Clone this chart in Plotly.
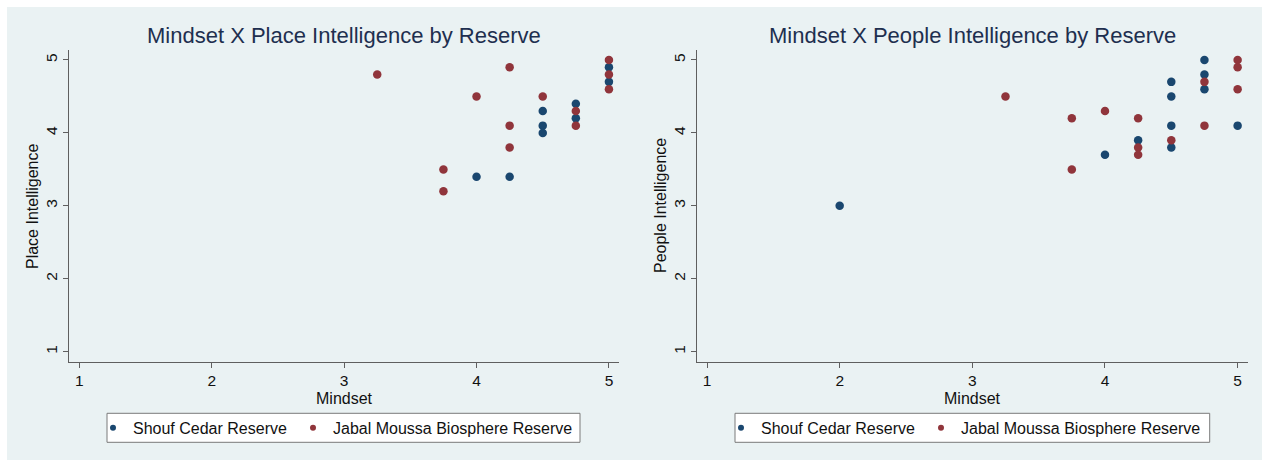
import plotly.graph_objects as go

# Mindset vs. Place Intelligence
place_shouf_x = [4.0, 4.25, 4.5, 4.5, 4.5, 4.75, 4.75, 5.0, 5.0]
place_shouf_y = [3.4, 3.4, 4.3, 4.1, 4.0, 4.4, 4.2, 4.9, 4.7]
place_jabal_x = [3.25, 3.75, 3.75, 4.0, 4.25, 4.25, 4.25, 4.5, 4.75, 4.75, 5.0, 5.0, 5.0]
place_jabal_y = [4.8, 3.5, 3.2, 4.5, 4.9, 4.1, 3.8, 4.5, 4.3, 4.1, 5.0, 4.8, 4.6]

# Mindset vs. People Intelligence
people_shouf_x = [2.0, 4.0, 4.25, 4.5, 4.5, 4.5, 4.5, 4.75, 4.75, 4.75, 5.0]
people_shouf_y = [3.0, 3.7, 3.9, 4.7, 4.5, 4.1, 3.8, 5.0, 4.8, 4.6, 4.1]
people_jabal_x = [3.25, 3.75, 3.75, 4.0, 4.25, 4.25, 4.25, 4.5, 4.75, 4.75, 5.0, 5.0, 5.0]
people_jabal_y = [4.5, 4.2, 3.5, 4.3, 4.2, 3.8, 3.7, 3.9, 4.7, 4.1, 5.0, 4.9, 4.6]

series_names = ["Shouf Cedar Reserve", "Jabal Moussa Biosphere Reserve"]
panel_titles = ["Mindset X Place Intelligence by Reserve",
                "Mindset X People Intelligence by Reserve"]
y_titles = ["Place Intelligence", "People Intelligence"]
x_title = "Mindset"
tick_vals = [1, 2, 3, 4, 5]

NAVY = "#1a476f"
MAROON = "#90353b"
BG = "#eaf2f3"
AXIS = "#5f5f5f"
TXT = "#111111"
FONT = "Liberation Sans, Arial, sans-serif"

W, H = 1267, 463


def px_x(p):
    return p / W


def px_y(p):
    return 1 - p / H


fig = go.Figure()

panels = [
    (place_shouf_x, place_shouf_y, place_jabal_x, place_jabal_y, "x", "y", "legend"),
    (people_shouf_x, people_shouf_y, people_jabal_x, people_jabal_y, "x2", "y2", "legend2"),
]

key_widths = [155, 262]

for sx, sy, jx, jy, xa, ya, lg in panels:
    for xs, ys, col, name in [(sx, sy, NAVY, series_names[0]),
                              (jx, jy, MAROON, series_names[1])]:
        fig.add_trace(go.Scatter(
            x=xs, y=ys, mode="markers", xaxis=xa, yaxis=ya,
            marker=dict(color=col, size=8.5, line=dict(width=0)),
            showlegend=False, hoverinfo="x+y", name=name,
        ))
    # legend keys (smaller symbols than the plotted points)
    for col, name, kw in zip([NAVY, MAROON], series_names, key_widths):
        fig.add_trace(go.Scatter(
            x=[None], y=[None], mode="markers", xaxis=xa, yaxis=ya,
            marker=dict(color=col, size=6), name=name, legend=lg,
            legendwidth=kw,
        ))

x_doms = [[px_x(69), px_x(619)], [px_x(696.7), px_x(1247.7)]]
y_dom = [px_y(361.7), px_y(50)]

axis_common = dict(
    showline=True, linecolor=AXIS, linewidth=1,
    ticks="outside", ticklen=5, tickcolor=AXIS, tickwidth=1,
    tickvals=tick_vals, tickfont=dict(family=FONT, size=15.5, color=TXT),
    zeroline=False, mirror=False,
)

xr = [0.922, 5.076]
yr = [0.863, 5.137]

legend_common = dict(
    orientation="h", xanchor="left", yanchor="middle",
    bgcolor="rgba(0,0,0,0)", borderwidth=0,
    font=dict(family=FONT, size=16, color=TXT), itemwidth=30,
)

# background panel and legend frames
legend_boxes = [(107, 580), (735, 1209.7)]
shapes = [dict(type="rect", xref="paper", yref="paper", layer="below",
               x0=px_x(7), x1=px_x(1262), y0=px_y(460), y1=px_y(7),
               fillcolor=BG, line=dict(width=0))]
for x0, x1 in legend_boxes:
    shapes.append(dict(type="rect", xref="paper", yref="paper", layer="below",
                       x0=px_x(x0), x1=px_x(x1), y0=px_y(442.3), y1=px_y(413.3),
                       fillcolor="white", line=dict(color="#7a7a7a", width=1)))

annotations = []
centers = [344, 972.5]
y_title_x = [33, 661]
for i in range(2):
    annotations.append(dict(
        text=panel_titles[i], xref="paper", yref="paper", x=px_x(centers[i]), y=px_y(35),
        xanchor="center", yanchor="middle", showarrow=False,
        font=dict(family=FONT, size=22, color="#1e2f4f")))
    annotations.append(dict(
        text=x_title, xref="paper", yref="paper", x=px_x(centers[i]), y=px_y(388),
        xanchor="center", yanchor="top", showarrow=False,
        font=dict(family=FONT, size=16, color=TXT)))
    annotations.append(dict(
        text=y_titles[i], xref="paper", yref="paper", x=px_x(y_title_x[i]), y=px_y(206),
        xanchor="center", yanchor="middle", showarrow=False, textangle=-90,
        font=dict(family=FONT, size=16, color=TXT)))

fig.update_layout(
    width=W, height=H,
    margin=dict(l=0, r=0, t=0, b=0),
    paper_bgcolor="white", plot_bgcolor="white",
    font=dict(family=FONT, color=TXT),
    xaxis=dict(domain=x_doms[0], range=xr, showgrid=False, anchor="y", **axis_common),
    yaxis=dict(domain=y_dom, range=yr, showgrid=True, gridcolor=BG, gridwidth=1.5,
               anchor="x", tickangle=-90, **axis_common),
    xaxis2=dict(domain=x_doms[1], range=xr, showgrid=False, anchor="y2", **axis_common),
    yaxis2=dict(domain=y_dom, range=yr, showgrid=True, gridcolor=BG, gridwidth=1.5,
                anchor="x2", tickangle=-90, **axis_common),
    legend=dict(x=px_x(107 - 14), y=px_y(427.8), **legend_common),
    legend2=dict(x=px_x(735 - 14), y=px_y(427.8), **legend_common),
    shapes=shapes,
    annotations=annotations,
)

fig.write_html("out.html")
